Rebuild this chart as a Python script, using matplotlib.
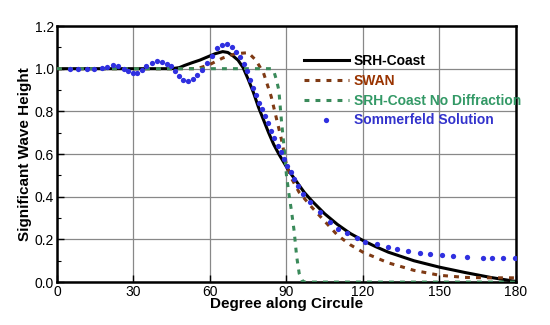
import matplotlib
matplotlib.use("Agg")
import matplotlib.pyplot as plt

plt.rcParams['font.family'] = ['Liberation Sans', 'DejaVu Sans']

# SRH-Coast
srh_deg = [0, 45, 48, 50, 53, 56, 59, 62, 65, 67, 69, 71, 73, 75, 77, 79, 81, 83, 85, 87,
           89, 91, 94, 97, 100, 105, 110, 115, 120, 125, 130, 140, 150, 160, 170, 180]
srh_val = [1.0, 1.0, 1.005, 1.015, 1.028, 1.04, 1.055, 1.07, 1.08, 1.076, 1.06, 1.04, 1.005,
           0.95, 0.89, 0.82, 0.76, 0.70, 0.645, 0.60, 0.56, 0.52, 0.47, 0.42, 0.38, 0.32,
           0.27, 0.228, 0.195, 0.166, 0.14, 0.10, 0.07, 0.045, 0.022, 0.003]

# SWAN
swan_deg = [0, 55, 60, 65, 70, 75, 78, 81, 84, 86, 88, 90, 92, 95, 100, 105, 110, 115,
            120, 130, 140, 150, 160, 170, 180]
swan_val = [1.0, 1.0, 1.02, 1.05, 1.07, 1.075, 1.04, 0.98, 0.87, 0.77, 0.67, 0.55, 0.485,
            0.42, 0.35, 0.285, 0.22, 0.175, 0.14, 0.09, 0.055, 0.032, 0.022, 0.02, 0.02]

# SRH-Coast No Diffraction
nodif_deg = [0, 84, 85, 86, 87, 88, 89, 90, 91, 92, 93, 94, 95, 96, 97, 180]
nodif_val = [1.0, 1.0, 0.99, 0.95, 0.9, 0.76, 0.64, 0.5, 0.41, 0.33, 0.24, 0.12, 0.04,
             0.01, 0.0, 0.0]

# Sommerfeld Solution
som_deg = [5.1, 8.4, 11.6, 14.6, 17.5, 19.7, 21.8, 24.0, 26.3, 28.0, 29.7, 31.5, 33.2,
           35.1, 37.1, 39.3, 41.3, 43.0, 44.6, 46.3, 47.8, 49.5, 51.5, 53.2, 55.0, 57.0,
           58.9, 60.9, 62.9, 64.8, 66.5, 68.5, 70.2, 71.7, 73.2, 74.5, 75.7, 76.8, 78.0,
           79.2, 80.4, 81.6, 82.9, 84.0, 85.2, 86.5, 87.7, 89.0, 90.3, 91.6, 93.0, 94.6,
           96.6, 99.2, 103.1, 107.1, 110.3, 113.6, 117.5, 120.8, 125.4, 129.9, 133.2,
           137.8, 142.4, 146.3, 150.9, 155.4, 160.7, 167.2, 170.5, 175.0, 179.6]
som_val = [1.0, 1.0, 0.998, 0.998, 1.003, 1.008, 1.016, 1.011, 1.0, 0.988, 0.979, 0.982,
           0.992, 1.011, 1.027, 1.035, 1.032, 1.023, 1.011, 0.99, 0.966, 0.947, 0.941,
           0.95, 0.97, 0.994, 1.025, 1.059, 1.095, 1.11, 1.114, 1.103, 1.08, 1.055, 1.02,
           0.99, 0.945, 0.91, 0.875, 0.84, 0.81, 0.78, 0.745, 0.71, 0.675, 0.64, 0.61,
           0.575, 0.545, 0.515, 0.485, 0.448, 0.415, 0.376, 0.329, 0.282, 0.251, 0.232,
           0.205, 0.188, 0.18, 0.164, 0.154, 0.146, 0.138, 0.133, 0.129, 0.122, 0.117,
           0.115, 0.115, 0.115, 0.115]

fig = plt.figure(figsize=(5.5, 3.25), dpi=100)
ax = fig.add_axes([0.1036, 0.132, 0.8345, 0.788])

ax.plot(srh_deg, srh_val, color='black', lw=2.2, label='SRH-Coast', zorder=3)
ax.plot(swan_deg, swan_val, color='#7f3a14', lw=2.2, dashes=(1.6, 2.0), label='SWAN', zorder=3)
ax.plot(nodif_deg, nodif_val, color='#3a8a5a', lw=2.2, dashes=(1.6, 2.0),
        label='SRH-Coast No Diffraction', zorder=3)
ax.plot(som_deg, som_val, 'o', color='#3030e0', ms=3.8, mec='none',
        label='Sommerfeld Solution', zorder=4)

ax.set_xlim(0, 180)
ax.set_ylim(0, 1.2)
ax.set_xticks(range(0, 181, 30))
ax.set_yticks([0.0, 0.2, 0.4, 0.6, 0.8, 1.0, 1.2])
ax.set_yticks([0.1, 0.3, 0.5, 0.7, 0.9, 1.1], minor=True)
ax.yaxis.set_major_formatter(plt.FormatStrFormatter('%.1f'))
ax.grid(True, color='#888888', lw=0.9)
ax.set_axisbelow(True)
ax.tick_params(direction='in', length=5, width=1, labelsize=10, pad=2)
ax.tick_params(which='minor', direction='in', length=3, width=0.8)
for s in ax.spines.values():
    s.set_linewidth(1.8)

ax.set_xlabel('Degree along Circule', fontsize=11, fontweight='bold', labelpad=-1)
ax.set_ylabel('Significant Wave Height', fontsize=11, fontweight='bold', labelpad=2)

leg = ax.legend(loc='upper left', bbox_to_anchor=(0.51, 0.94), frameon=False,
                handlelength=3.3, handletextpad=0.3, labelspacing=0.42,
                numpoints=1, prop={'weight': 'bold', 'size': 10})
for txt, c in zip(leg.get_texts(), ['black', '#993300', '#339966', '#3333cc']):
    txt.set_color(c)

fig.savefig('out.png', dpi=100)
